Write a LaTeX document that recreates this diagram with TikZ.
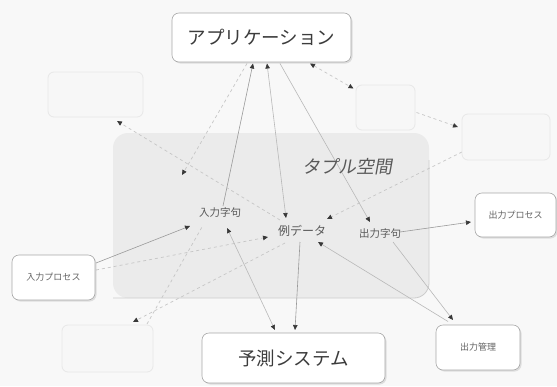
\documentclass[tikz,border=0pt]{standalone}
\usepackage{fontspec}
\usetikzlibrary{arrows.meta,calc,shadows}
\newfontfamily\jp{Noto Sans CJK JP}
\newfontfamily\jpsl[FakeSlant=0.18]{Noto Sans CJK JP}
\definecolor{bgc}{HTML}{F8F8F8}
\definecolor{tsp}{HTML}{EBEBEB}
\definecolor{boxline}{HTML}{A8A8A8}
\definecolor{txt}{HTML}{3C3C3C}
\definecolor{lin}{HTML}{9A9A9A}
\definecolor{llin}{HTML}{B8B8B8}
\definecolor{dlin}{HTML}{C6C6C6}
\pgfdeclarelayer{bg}
\pgfdeclarelayer{lines}
\pgfsetlayers{bg,lines,main}
\tikzset{
  mainbox/.style={draw=boxline, line width=0.6pt, fill=white, rounded corners=7pt,
    inner sep=0pt, outer sep=0pt, text=txt, font=\jp,
    drop shadow={opacity=0.22, shadow xshift=1.5pt, shadow yshift=-1.5pt}},
  ghostbox/.style={draw=black!9, line width=0.8pt, fill=white!97!black, rounded corners=6pt,
    inner sep=0pt, outer sep=0pt},
  tuplelabel/.style={inner sep=1pt, text=txt!85, font=\jp},
  conn/.style={draw=lin, line width=0.6pt},
  lconn/.style={draw=llin, line width=0.6pt},
  dconn/.style={draw=dlin, line width=0.7pt, dash pattern=on 3pt off 3pt},
  >={Triangle[length=5pt,width=4.5pt,color=black!78]}
}
\begin{document}
\begin{tikzpicture}[x=1pt,y=-1pt]
\useasboundingbox (0,0) rectangle (557,386);
\begin{pgfonlayer}{bg}
  \fill[bgc] (0,0) rectangle (557,386);
  \fill[tsp, rounded corners=15pt] (113,133) rectangle (429,298);
  \draw[black!20, line width=0.8pt, rounded corners=15pt] (113,298) -- (429,298) -- (429,160);
\end{pgfonlayer}

% main boxes
\node[mainbox, minimum width=179pt, minimum height=49pt, font=\jp\fontsize{18.5}{20}\selectfont] (app) at (261.5,37.5) {アプリケーション};
\node[mainbox, minimum width=183pt, minimum height=50pt, font=\jp\fontsize{18.5}{20}\selectfont] (pred) at (293.5,358) {予測システム};
\node[mainbox, minimum width=83pt, minimum height=45pt, font=\jp\fontsize{9}{10}\selectfont, text=txt!80] (inproc) at (53.5,277.5) {入力プロセス};
\node[mainbox, minimum width=81pt, minimum height=44pt, font=\jp\fontsize{9}{10}\selectfont, text=txt!80] (outproc) at (515.5,215) {出力プロセス};
\node[mainbox, minimum width=84pt, minimum height=45pt, font=\jp\fontsize{9}{10}\selectfont, text=txt!80] (outmgmt) at (478,347.5) {出力管理};

% ghost boxes
\node[ghostbox, minimum width=95pt, minimum height=45pt] (gl) at (95.5,94.5) {};
\node[ghostbox, minimum width=59pt, minimum height=45pt] (gt) at (385.5,107.5) {};
\node[ghostbox, minimum width=88pt, minimum height=46pt] (gr) at (506,137) {};
\node[ghostbox, minimum width=91pt, minimum height=47pt] (gb) at (107.5,348.5) {};

% tuple space texts
\node[tuplelabel, font=\jpsl\fontsize{18}{20}\selectfont] (ts) at (347,167) {タプル空間};
\node[tuplelabel, font=\jp\fontsize{10.5}{12}\selectfont] (in) at (220,213) {入力字句};
\node[tuplelabel, font=\jp\fontsize{12}{13}\selectfont] (ex) at (302,231) {例データ};
\node[tuplelabel, font=\jp\fontsize{10.5}{12}\selectfont] (out) at (380,234) {出力字句};
\coordinate (p1) at (182,175);

\begin{pgfonlayer}{lines}
  % application links
  \draw[conn,->] ($(in)+(3,-7)$) -- ($(app)+(-8.5,26)$);
  \draw[dconn,->] ($(app)+(-14.5,26)$) -- (p1);
  \draw[lconn,<->] ($(ex)+(-16,-13)$) -- ($(app)+(5.5,26)$);
  \draw[lconn,->] ($(app)+(18.5,26)$) -- ($(out)+(-10,-12)$);
  \draw[dconn,<->] ($(app)+(48.5,26)$) -- ($(gt)+(-32,-19)$);
  % ghost links
  \draw[dconn,->] ($(gt)+(31,5)$) -- ($(gr)+(-48,-10)$);
  \draw[dconn,->] ($(gr)+(-44,15)$) -- ($(ex)+(25,-12)$);
  \draw[dconn,->] ($(ex)+(-22,-11)$) -- ($(gl)+(21.5,26.5)$);
  \draw[dconn,->] ($(ex)+(-17,12)$) -- ($(gb)+(25.5,-26.5)$);
  \draw[dconn] ($(gb)+(39.5,-24.5)$) -- ($(in)+(-18,14)$);
  % input process
  \draw[conn,->] ($(inproc)+(42.5,-14.5)$) -- ($(in)+(-30,13)$);
  \draw[dconn,->] ($(inproc)+(42.5,-7.5)$) -- ($(ex)+(-34,6)$);
  % prediction system
  \draw[lconn,<->] ($(in)+(7,15)$) -- ($(pred)+(-18.5,-28)$);
  \draw[conn,->] ($(ex)+(-2,11)$) -- ($(pred)+(1.5,-28)$);
  % output side
  \draw[conn,->] ($(out)+(20,-2)$) -- ($(outproc)+(-44.5,7)$);
  \draw[lconn,->] ($(out)+(13,8)$) -- ($(outmgmt)+(-25,-27.5)$);
  \draw[lconn,->] ($(outmgmt)+(-30,-26)$) -- ($(ex)+(16,11)$);
\end{pgfonlayer}
\end{tikzpicture}
\end{document}
